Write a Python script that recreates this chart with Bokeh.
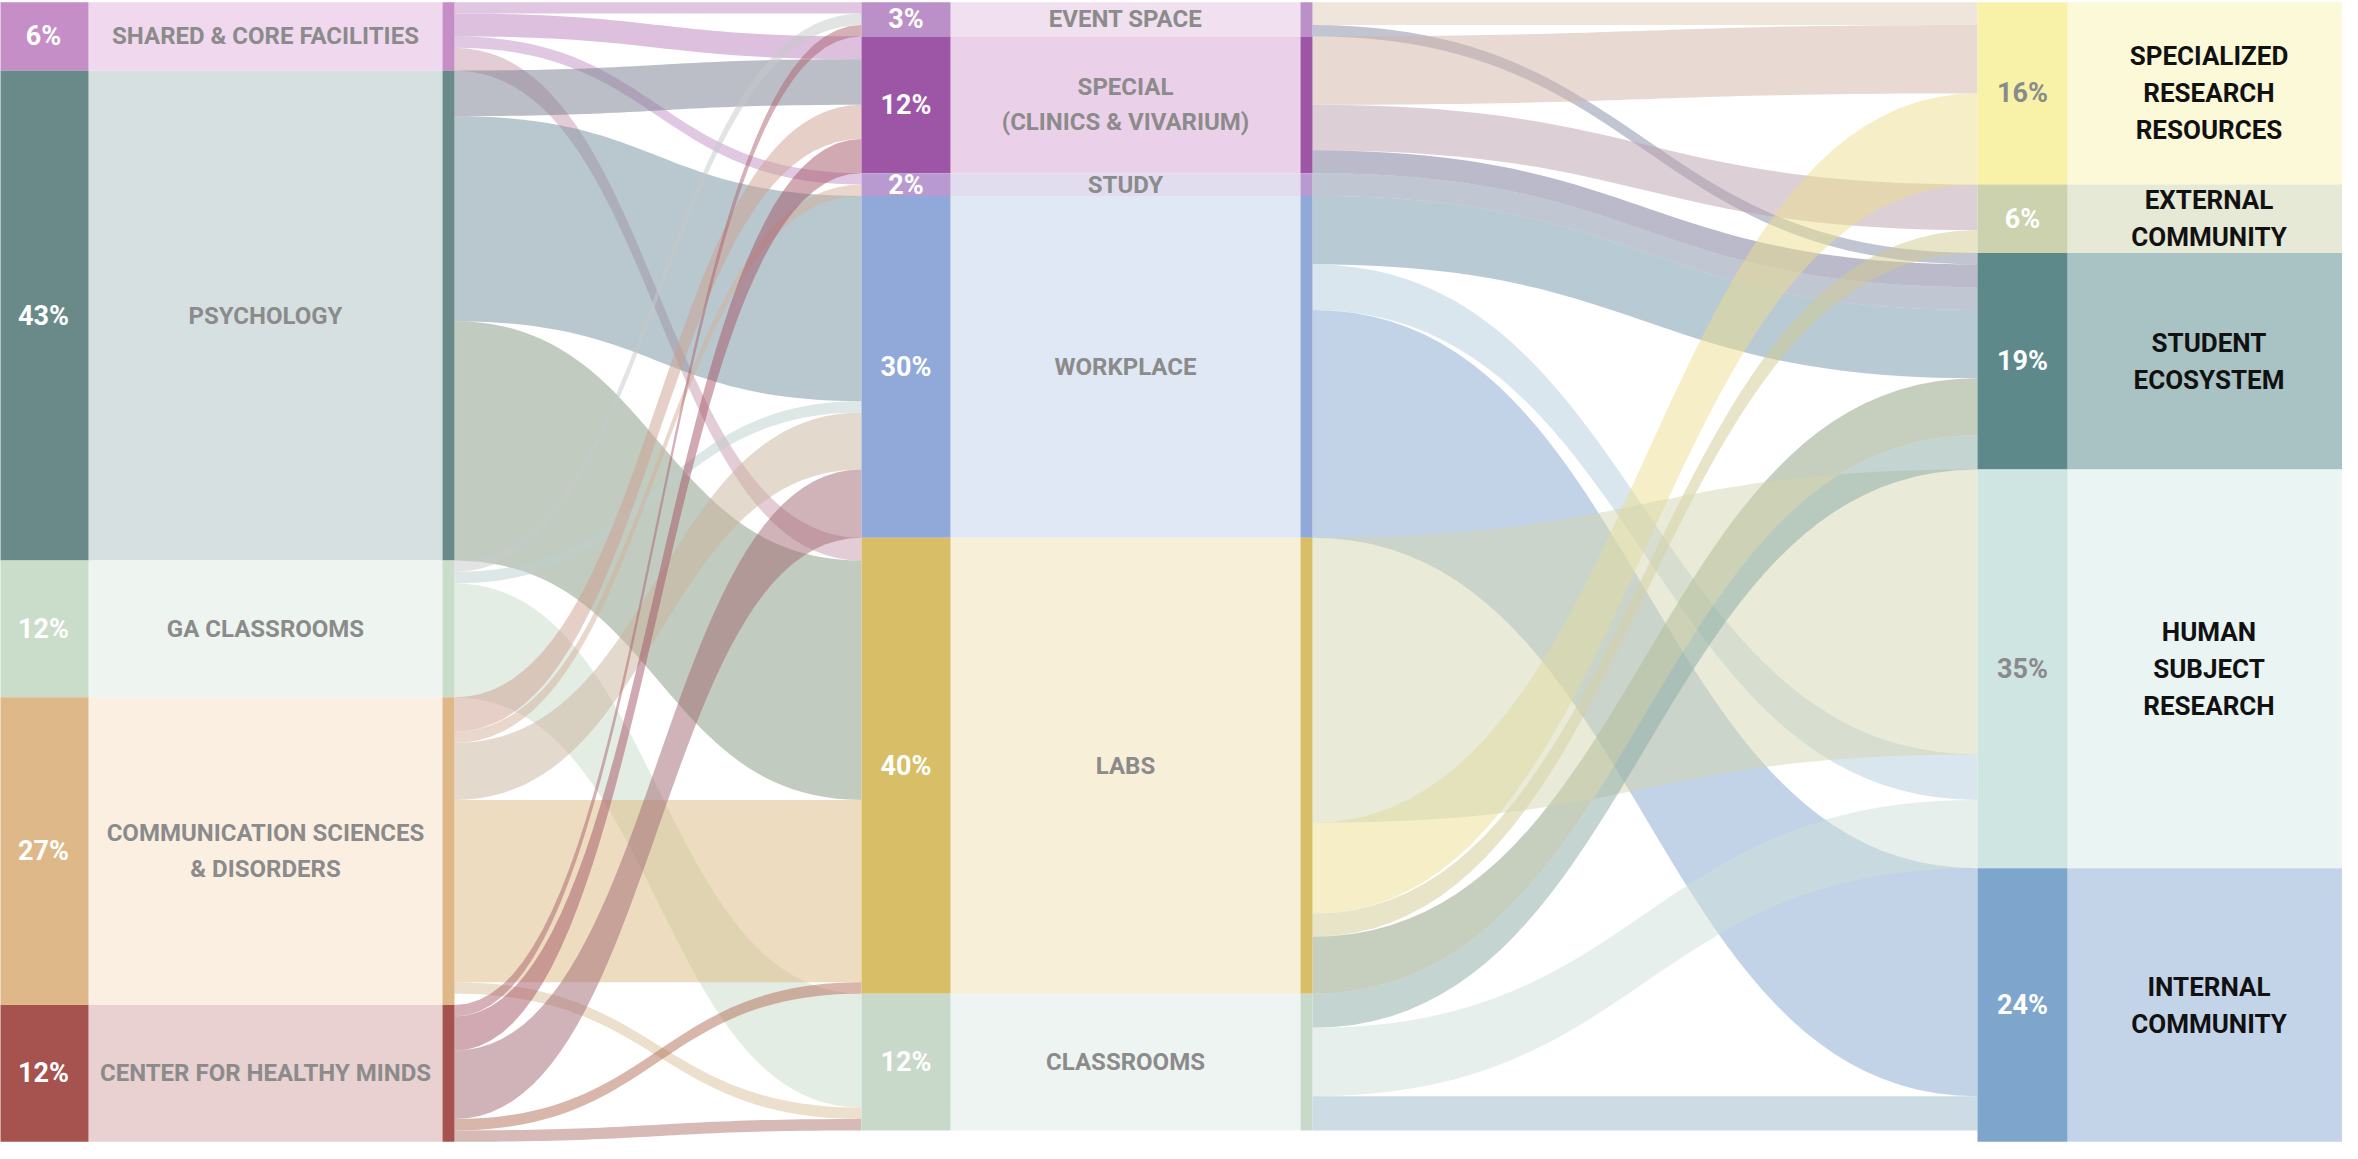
import numpy as np
from bokeh.plotting import figure
from bokeh.models import ColumnDataSource, Range1d
from bokeh.core.properties import value
from bokeh.embed import file_html
from bokeh.resources import INLINE

# ---------------- data ----------------
left_names = ["SHARED & CORE FACILITIES", "PSYCHOLOGY", "GA CLASSROOMS",
              "COMMUNICATION SCIENCES\n& DISORDERS", "CENTER FOR HEALTHY MINDS"]
left_pct = [6, 43, 12, 27, 12]

mid_names = ["EVENT SPACE", "SPECIAL\n(CLINICS & VIVARIUM)", "STUDY", "WORKPLACE",
             "LABS", "CLASSROOMS"]
mid_pct = [3, 12, 2, 30, 40, 12]

right_names = ["SPECIALIZED\nRESEARCH\nRESOURCES", "EXTERNAL\nCOMMUNITY",
               "STUDENT\nECOSYSTEM", "HUMAN\nSUBJECT\nRESEARCH", "INTERNAL\nCOMMUNITY"]
right_pct = [16, 6, 19, 35, 24]

# flows department -> space type (rows: left nodes, cols: middle nodes)
flows_lm = [
    [1, 2, 1, 0, 2, 0],
    [0, 4, 0, 18, 21, 0],
    [1, 0, 0, 1, 0, 10],
    [0, 3, 1, 5, 16, 1],
    [1, 3, 0, 6, 1, 1],
]
# flows space type -> category (rows: middle nodes, cols: right nodes)
flows_mr = [
    [2, 0, 1, 0, 0],
    [6, 4, 2, 0, 0],
    [0, 0, 2, 0, 0],
    [0, 0, 6, 4, 20],
    [8, 2, 5, 25, 0],
    [0, 0, 3, 6, 3],
]

# ---------------- styles ----------------
left_bar = ["#c68ec6", "#6a8a89", "#cadcca", "#deb888", "#a6524f"]
left_box = ["#f0d9ee", "#d6e0e1", "#eef5f0", "#fbefe2", "#e9d0d1"]
mid_bar = ["#bb90c8", "#9d56a6", "#b89ad0", "#90a9d8", "#d8be66", "#c9d9c9"]
mid_box = ["#f0e0f0", "#ebd0e9", "#e2dcef", "#e0e8f5", "#f7efd8", "#eef4f1"]
right_bar = ["#f7f2a8", "#ccd2ae", "#5d898b", "#cfe5e2", "#7ea5cb"]
right_box = ["#fcf9d9", "#e5e9d6", "#a9c2c3", "#e9f4f3", "#c3d4e9"]
right_pct_color = ["#8a8a8a", "white", "white", "#8a8a8a", "white"]

FONT = value("Roboto")

# column geometry (screen-like x units)
L_BAR = (6, 96); L_BOX = (96, 450); L_THIN = (450, 462)
M_BAR = (869, 958); M_BOX = (958, 1308); M_THIN = (1308, 1320)
R_BAR = (1985, 2075); R_BOX = (2075, 2360)

# ribbon stacking order overrides (layout only)
mr_out_order = {4: [3, 0, 1, 2, 4]}
mr_in_order = {3: [4, 3, 5, 0, 1, 2]}

p = figure(width=2342, height=1143, x_range=Range1d(8, 2350),
           y_range=Range1d(100.15, -0.15), output_backend="svg",
           toolbar_location=None, min_border=0)
p.axis.visible = False
p.grid.visible = False
p.outline_line_color = None
p.background_fill_color = "white"
p.border_fill_color = "white"


def tops(vals):
    c = np.cumsum([0] + list(vals))
    return c[:-1], c[1:]


lt, lb = tops(left_pct)
mt, mb = tops(mid_pct)
rt, rb = tops(right_pct)


def hex2rgb(h):
    h = h.lstrip("#")
    return np.array([int(h[i:i + 2], 16) for i in (0, 2, 4)], dtype=float)


def mix(c0, c1, f):
    a = hex2rgb(c0) * (1 - f) + hex2rgb(c1) * f
    return "#%02x%02x%02x" % tuple(int(round(v)) for v in a)


def build_flows(mat, src_top, dst_top, x0, x1, src_cols, dst_cols, frac,
                out_order=None, in_order=None, npts=48):
    out_order = out_order or {}
    in_order = in_order or {}
    mat = np.array(mat, dtype=float)
    ns, nd = mat.shape
    s_off = {}
    for i in range(ns):
        y = src_top[i]
        for j in out_order.get(i, range(nd)):
            s_off[(i, j)] = y
            y += mat[i, j]
    d_off = {}
    for j in range(nd):
        y = dst_top[j]
        for i in in_order.get(j, range(ns)):
            d_off[(i, j)] = y
            y += mat[i, j]
    xm = (x0 + x1) / 2.0
    ts = np.linspace(0, 1, npts)
    bx = x0 * (1 - ts) ** 3 + 3 * xm * (1 - ts) ** 2 * ts + 3 * xm * (1 - ts) * ts ** 2 + x1 * ts ** 3
    h = 3 * ts ** 2 - 2 * ts ** 3  # y-weight of the cubic with flat tangents
    xs_all, ys_all, cols = [], [], []
    for i in range(ns):
        for j in range(nd):
            v = mat[i, j]
            if v <= 0:
                continue
            s0 = s_off[(i, j)]
            t0 = d_off[(i, j)]
            top = s0 + (t0 - s0) * h
            bot = top + v
            xs_all.append(list(bx) + list(bx[::-1]))
            ys_all.append(list(top) + list(bot[::-1]))
            cols.append(mix(src_cols[i], dst_cols[j], frac))
    return xs_all, ys_all, cols


xs1, ys1, c1 = build_flows(flows_lm, lt, mt, L_THIN[1], M_BAR[0], left_bar, mid_bar, 0.25)
xs2, ys2, c2 = build_flows(flows_mr, mt, rt, M_THIN[1], R_BAR[0], mid_bar, right_bar, 0.6,
                           mr_out_order, mr_in_order)

flow_src = ColumnDataSource(dict(xs=xs1 + xs2, ys=ys1 + ys2, color=c1 + c2))
p.patches("xs", "ys", source=flow_src, fill_color="color", fill_alpha=0.5,
          line_color=None)


def draw_column(t, b, bar_x, box_x, thin_x, bar_cols, box_cols):
    n = len(t)
    p.quad(left=[box_x[0]] * n, right=[box_x[1]] * n, top=list(t), bottom=list(b),
           fill_color=box_cols, line_color=None)
    p.quad(left=[bar_x[0]] * n, right=[bar_x[1]] * n, top=list(t), bottom=list(b),
           fill_color=bar_cols, line_color=None)
    if thin_x is not None:
        p.quad(left=[thin_x[0]] * n, right=[thin_x[1]] * n, top=list(t), bottom=list(b),
               fill_color=bar_cols, line_color=None)


draw_column(lt, lb, L_BAR, L_BOX, L_THIN, left_bar, left_box)
draw_column(mt, mb, M_BAR, M_BOX, M_THIN, mid_bar, mid_box)
draw_column(rt, rb, R_BAR, R_BOX, None, right_bar, right_box)


def draw_labels(names, pcts, t, b, bar_x, box_x, label_color, pct_colors,
                label_size, pct_size, spacing):
    lx, ly, lt_, lo = [], [], [], []
    for name, a, c in zip(names, t, b):
        lines = name.split("\n")
        n = len(lines)
        for k, line in enumerate(lines):
            lx.append((box_x[0] + box_x[1]) / 2.0)
            ly.append((a + c) / 2.0)
            lt_.append(line)
            lo.append((k - (n - 1) / 2.0) * spacing)
    src = ColumnDataSource(dict(x=lx, y=ly, text=lt_, off=lo))
    p.text("x", "y", text="text", y_offset="off", source=src, text_font=FONT,
           text_font_style="bold", text_font_size=label_size, text_color=label_color,
           text_align="center", text_baseline="middle")
    psrc = ColumnDataSource(dict(x=[(bar_x[0] + bar_x[1]) / 2.0] * len(pcts),
                                 y=[(a + c) / 2.0 for a, c in zip(t, b)],
                                 text=["%d%%" % v for v in pcts],
                                 color=pct_colors))
    p.text("x", "y", text="text", source=psrc, text_font=FONT, text_font_style="bold",
           text_font_size=pct_size, text_color="color", text_align="center",
           text_baseline="middle")


draw_labels(left_names, left_pct, lt, lb, L_BAR, L_BOX, "#8b8b8b",
            ["white"] * len(left_pct), "24px", "27px", 36)
draw_labels(mid_names, mid_pct, mt, mb, M_BAR, M_BOX, "#8b8b8b",
            ["white"] * len(mid_pct), "24px", "27px", 35)
draw_labels(right_names, right_pct, rt, rb, (R_BAR[0], R_BAR[1]), (R_BOX[0], 2358),
            "#111111", right_pct_color, "26px", "27px", 37)

open("out.html", "w").write(file_html(p, INLINE))
